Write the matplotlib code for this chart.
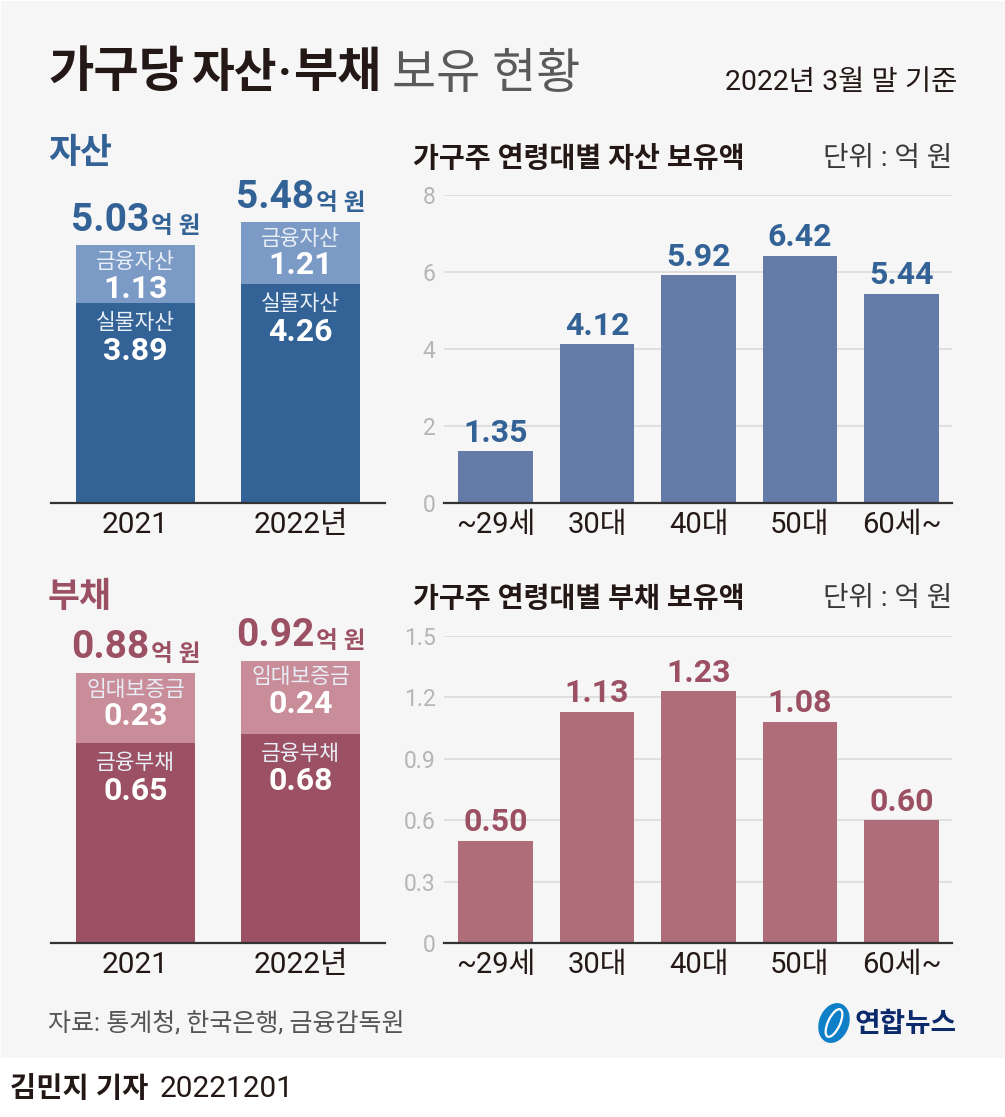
#!/usr/bin/env python3
"""가구당 자산·부채 보유 현황 infographic."""
import matplotlib
matplotlib.use("Agg")
import matplotlib.pyplot as plt
from matplotlib.patches import Ellipse, Rectangle

# digits from Roboto, hangul falls through to Noto
plt.rcParams["font.family"] = ["Roboto", "Noto Sans CJK KR", "DejaVu Sans"]

W, H = 1005, 1117

YEARS = ["2021", "2022년"]
ASSET_REAL = [3.89, 4.26]
ASSET_FIN = [1.13, 1.21]
ASSET_TOTAL = ["5.03", "5.48"]
DEBT_FIN = [0.65, 0.68]
DEBT_RENT = [0.23, 0.24]
DEBT_TOTAL = ["0.88", "0.92"]

AGES = ["~29세", "30대", "40대", "50대", "60세~"]
ASSET_AGE = [1.35, 4.12, 5.92, 6.42, 5.44]
DEBT_AGE = [0.50, 1.13, 1.23, 1.08, 0.60]
ASSET_TICKS = [0, 2, 4, 6, 8]
DEBT_TICKS = [0, 0.3, 0.6, 0.9, 1.2, 1.5]
DEBT_TICK_LABELS = ["0", "0.3", "0.6", "0.9", "1.2", "1.5"]

BG = "#f6f6f6"
INK = "#231815"
BLUE, BLUE_L, BLUE_M = "#336296", "#7b9ac5", "#637ba6"
RED, RED_L, RED_M = "#9c5063", "#c98c99", "#ae6d79"


def px_axes(fig, x0, y0, x1, y1):
    """axes from pixel box, y counted from the top of the image"""
    ax = fig.add_axes([x0 / W, 1 - y1 / H, (x1 - x0) / W, (y1 - y0) / H])
    ax.patch.set_alpha(0)
    for s in ("top", "left", "right"):
        ax.spines[s].set_visible(False)
    ax.spines["bottom"].set_linewidth(1.6)
    ax.spines["bottom"].set_color("#333333")
    return ax


def stacked(fig, box, ymax, low, high, totals, names, cols, unit_col):
    ax = px_axes(fig, *box)
    # bar centres sit at 135.5 and 300.5 px, 165 px apart
    ax.set_xlim((box[0] - 135.5) / 165, (box[2] - 135.5) / 165)
    ax.set_ylim(0, ymax)
    ax.bar([0, 1], low, width=0.72, color=cols[0])
    ax.bar([0, 1], high, width=0.72, bottom=low, color=cols[1])
    ax.set_xticks([0, 1], YEARS, fontsize=21.5, color=INK)
    ax.set_yticks([])
    ax.tick_params(axis="x", length=0, pad=6)
    for i in range(2):
        top = low[i] + high[i]
        # segment captions are offset in points from the segment tops
        ax.annotate(names[1], (i, top), xytext=(0, -12.5), textcoords="offset points",
                    ha="center", va="center", color="#e8eef6", fontsize=15.5)
        ax.annotate(f"{high[i]:.2f}", (i, top), xytext=(0, -31), textcoords="offset points",
                    ha="center", va="center", color="white", fontsize=23, fontweight="bold")
        ax.annotate(names[0], (i, low[i]), xytext=(0, -14.5), textcoords="offset points",
                    ha="center", va="center", color="#e8eef6", fontsize=15.5)
        ax.annotate(f"{low[i]:.2f}", (i, low[i]), xytext=(0, -34), textcoords="offset points",
                    ha="center", va="center", color="white", fontsize=23, fontweight="bold")
        ax.annotate(totals[i], (i, top), xytext=(-18, 18), textcoords="offset points",
                    ha="center", va="center", color=unit_col, fontsize=28, fontweight="bold")
        ax.annotate("억 원", (i, top), xytext=(29, 13.5), textcoords="offset points",
                    ha="center", va="center", color=unit_col, fontsize=17, fontweight="bold")
    return ax


def by_age(fig, box, ymax, vals, ticks, tick_labels, bar_col, lab_col):
    ax = px_axes(fig, *box)
    # bars 101.5 px apart, first centre at 495.5 px
    ax.set_xlim((box[0] - 495.5) / 101.5, (box[2] - 495.5) / 101.5)
    ax.set_ylim(0, ymax)
    ax.set_axisbelow(True)
    ax.yaxis.grid(True, color="#d9d9d9", lw=1.1)
    rects = ax.bar(range(5), vals, width=0.73, color=bar_col)
    ax.bar_label(rects, labels=[f"{v:.2f}" for v in vals], padding=2.5, color=lab_col,
                 fontsize=23, fontweight="bold")
    ax.set_xticks(range(5), AGES, fontsize=21, color=INK)
    ax.set_yticks(ticks, tick_labels, fontsize=16.5, color="#b5b5b5")
    ax.tick_params(axis="x", length=0, pad=6)
    ax.tick_params(axis="y", length=0, pad=6)
    return ax


fig = plt.figure(figsize=(W / 100, H / 100), dpi=100, facecolor="white")

# page-level layer in image pixels
bg = fig.add_axes([0, 0, 1, 1], zorder=-1)
bg.set_xlim(0, W)
bg.set_ylim(H, 0)
bg.axis("off")
bg.add_patch(Rectangle((1, 1), W - 1, 1057, color=BG, lw=0))

stacked(fig, (51, 180, 385, 503), 323 / 51.3, ASSET_REAL, ASSET_FIN, ASSET_TOTAL,
        ["실물자산", "금융자산"], (BLUE, BLUE_L), BLUE)
stacked(fig, (51, 620, 385, 943), 323 / 307.0, DEBT_FIN, DEBT_RENT, DEBT_TOTAL,
        ["금융부채", "임대보증금"], (RED, RED_L), RED)
by_age(fig, (444, 195, 952, 503), 8, ASSET_AGE, ASSET_TICKS,
       [str(t) for t in ASSET_TICKS], BLUE_M, BLUE)
by_age(fig, (444, 636, 952, 943), 1.5, DEBT_AGE, DEBT_TICKS, DEBT_TICK_LABELS, RED_M, RED)

# headline words placed one by one, the original has very tight word gaps
for x, word, size in [(48, "가구당", 35.5), (191, "자산", 33.5), (278, "·", 33.5), (293, "부채", 34.5)]:
    bg.text(x, 74, word, fontsize=size, fontweight="bold", color=INK, va="center")
bg.text(392, 75, "보유 현황", fontsize=34.5, color="#5a5a5a", va="center")
bg.text(957, 83, "2022년 3월 말 기준", fontsize=20.5, color=INK, va="center", ha="right")

bg.text(48, 154, "자산", fontsize=25, fontweight="bold", color=BLUE, va="center")
bg.text(48, 597, "부채", fontsize=25, fontweight="bold", color=RED, va="center")
bg.text(413, 159, "가구주 연령대별 자산 보유액", fontsize=20.3, fontweight="bold", color=INK, va="center")
bg.text(413, 599, "가구주 연령대별 부채 보유액", fontsize=20.3, fontweight="bold", color=INK, va="center")
bg.text(952, 159, "단위 : 억 원", fontsize=20, color="#3a3a3a", va="center", ha="right")
bg.text(952, 599, "단위 : 억 원", fontsize=20, color="#3a3a3a", va="center", ha="right")

bg.text(48, 1023, "자료: 통계청, 한국은행, 금융감독원", fontsize=18, color="#555555", va="center")
bg.text(10, 1089, "김민지 기자", fontsize=20.5, fontweight="bold", color=INK, va="center")
bg.text(160, 1089, "20221201", fontsize=21.5, color=INK, va="center")

# logo
bg.add_patch(Ellipse((834, 1023), 30, 41, angle=20, color="#0f7fc8", lw=0))
bg.add_patch(Ellipse((834, 1023), 12, 30, angle=25, fc="none", ec="white", lw=1.6))
bg.text(957, 1024, "연합뉴스", fontsize=20, fontweight="bold", color="#0b2a6b", ha="right", va="center")

fig.savefig("out.png", dpi=100, facecolor="white")
